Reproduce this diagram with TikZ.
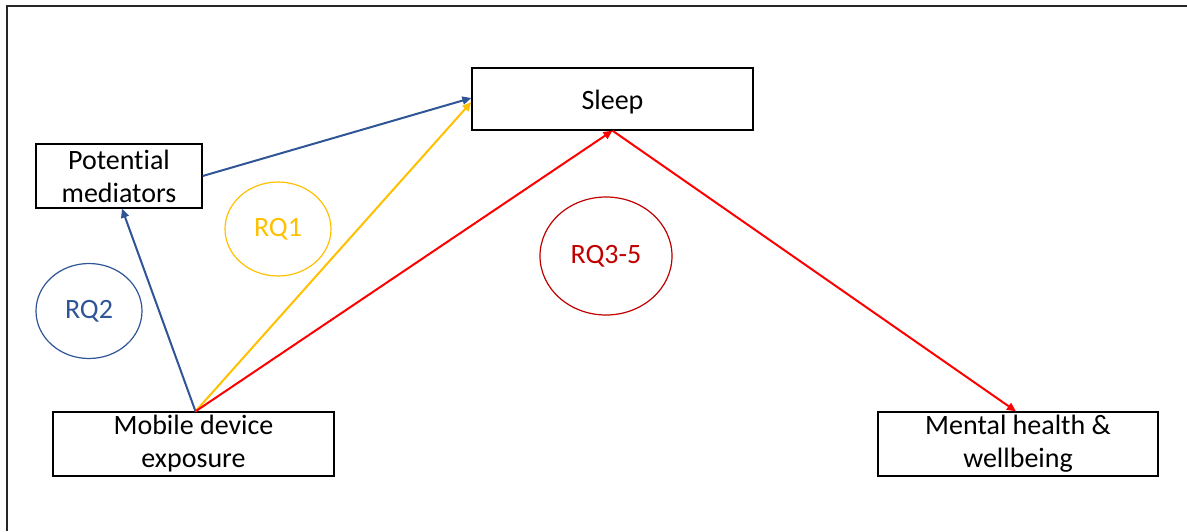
\documentclass[tikz,border=0pt]{standalone}
\usepackage{fontspec}
\setmainfont{Carlito}[Ligatures={NoCommon,NoContextual}]
\usetikzlibrary{shapes.geometric,arrows.meta}
\definecolor{rqblue}{RGB}{47,85,151}
\definecolor{rqyellow}{RGB}{255,192,0}
\definecolor{rqred}{RGB}{255,0,0}
\definecolor{rqdark}{RGB}{192,0,0}
\tikzset{
  box/.style={draw=black, line width=1.3pt, rectangle, align=center, inner sep=0pt,
    font=\fontsize{28}{33}\selectfont, text=black},
  rq/.style={ellipse, line width=1.2pt, inner sep=0pt, font=\fontsize{28}{30}\selectfont},
  conn/.style={line width=2pt, -{Triangle[length=9pt,width=8pt]}},
}
\begin{document}
\begin{tikzpicture}[x=1pt,y=-1pt]
\useasboundingbox (0,0) rectangle (1187,531);
\draw[line width=2pt, black!85] (7,531) -- (7,6) -- (1187,6);
\node[box, minimum width=281pt, minimum height=62pt] (sleep) at (612.5,99) {\raisebox{-10pt}[0pt][0pt]{Sleep}};
\node[box, minimum width=166pt, minimum height=64pt] (med) at (119,176) {Potential\\mediators};
\node[box, minimum width=281pt, minimum height=64pt] (mob) at (193.5,444) {Mobile device\\exposure};
\node[box, minimum width=280pt, minimum height=64pt] (mh) at (1018,444) {Mental health \&\\wellbeing};
\node[rq, draw=rqyellow, text=rqyellow, minimum width=106pt, minimum height=94pt] (rq1) at (278,229) {RQ1};
\node[rq, draw=rqblue, text=rqblue, minimum width=106pt, minimum height=95pt] (rq2) at (89,311) {RQ2};
\node[rq, draw=rqdark, text=rqdark, minimum width=132pt, minimum height=118pt] (rq3) at (606,256) {RQ3-5};
\draw[conn, rqblue] (med.east) -- ([yshift=1pt]sleep.west);
\draw[conn, rqblue] ([xshift=2pt]mob.north) -- ([xshift=3pt]med.south);
\draw[conn, rqyellow] ([xshift=2pt]mob.north) -- ([yshift=-3pt]sleep.west);
\draw[conn, rqred] ([xshift=2pt]mob.north) -- (sleep.south);
\draw[conn, rqred] (sleep.south) -- ([xshift=-2pt]mh.north);
\end{tikzpicture}
\end{document}
